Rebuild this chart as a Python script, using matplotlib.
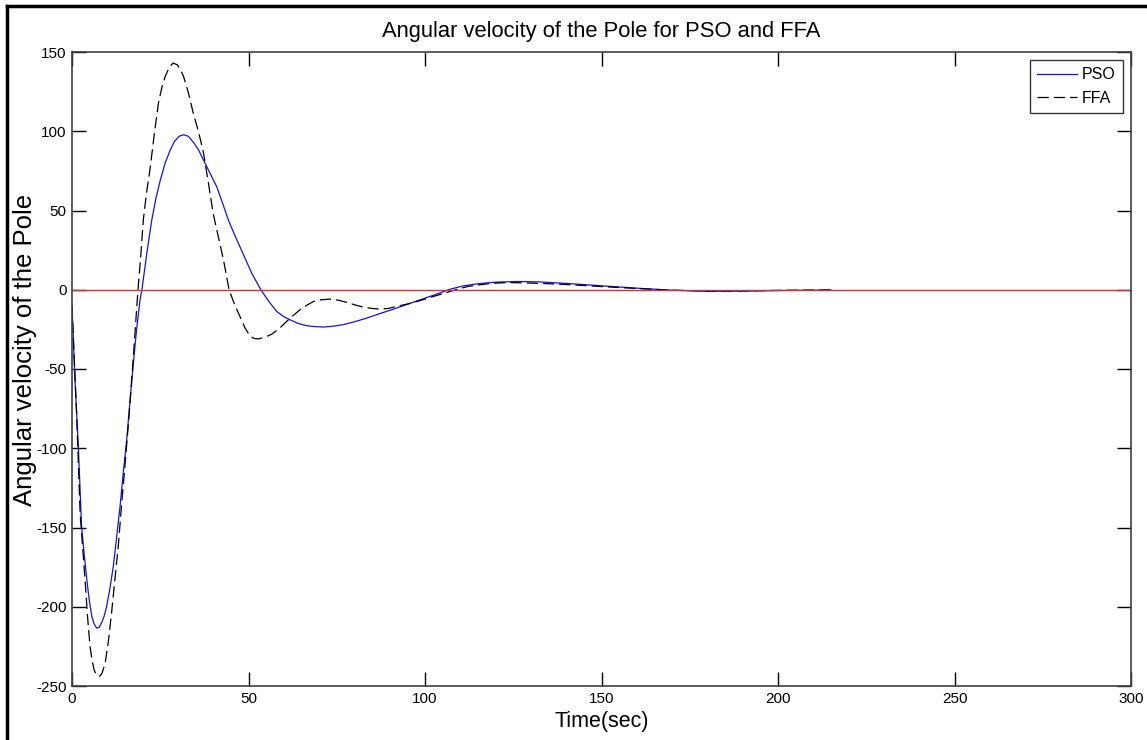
import matplotlib
matplotlib.use("Agg")
import matplotlib.pyplot as plt
from matplotlib.lines import Line2D

plt.rcParams['font.family'] = ['Liberation Sans', 'DejaVu Sans']
plt.rcParams['axes.unicode_minus'] = False

title = "Angular velocity of the Pole for PSO and FFA"
xlabel = "Time(sec)"
ylabel = "Angular velocity of the Pole"
series_names = ["PSO", "FFA"]

pso_t = [0, 0.85, 1.8, 2.7, 3.5, 4.2, 4.9, 5.6, 6.3, 7.0, 7.7, 8.4, 9.1, 9.8, 10.7, 11.7,
         12.6, 13.6, 14.5, 15.5, 16.4, 17.4, 18.3, 19.3, 19.8, 21.2, 22.6, 23.8, 25, 26.4,
         27.8, 29, 30.3, 31.6, 33, 34.4, 35.8, 37.2, 39, 41, 42.6, 44.3, 46, 47.6, 49.3,
         50.9, 53.5, 55.8, 58, 60, 61.8, 64, 66.5, 69, 71.3, 74, 76.9, 80, 83.5, 87, 91.1,
         95, 98.7, 103, 107.2, 111, 115, 120, 126, 132, 140, 150, 160, 170, 180, 190,
         200, 215]
pso_v = [-10, -57, -99, -149, -168, -183, -196, -206, -211, -213.5, -213, -210, -206, -200,
         -189, -174.6, -157, -137, -116, -94.6, -71, -46, -25, -6, 0, 23, 44, 58, 69, 80,
         88, 93.5, 96.8, 97.8, 96.8, 93, 88.5, 82, 74, 65, 55, 44, 35, 27, 18.5, 10.5, 0,
         -7.5, -13.7, -17, -19, -21.2, -22.7, -23.3, -23.5, -23, -22, -20.2, -17.9, -15.2,
         -12.2, -9.2, -6.3, -3, 0.4, 2.5, 3.8, 4.8, 5.2, 5.0, 4.0, 2.5, 1.0, -0.3, -1.0,
         -0.9, -0.5, -0.2]

ffa_t = [0, 1.3, 2.3, 3.7, 4.4, 5.1, 5.7, 6.3, 6.9, 7.5, 8.0, 8.5, 9.4, 10.3, 11.2, 12.1,
         13.1, 14.0, 15, 16, 16.9, 17.7, 18.5, 18.7, 19.5, 20.2, 21.1, 22.1, 23.3, 24.5,
         25.5, 26.4, 27.5, 28.6, 29.8, 30.7, 31.6, 33, 34.4, 35.8, 37.2, 38.6, 40, 41.5,
         42.9, 44.5, 46, 47.6, 49, 50.5, 51.7, 52.8, 54.6, 56.6, 58.7, 60.8, 62.7, 64.6,
         66.5, 68.4, 70.8, 73.1, 75.5, 77.9, 80.2, 82.6, 85, 87.3, 89.6, 92, 95, 97.7,
         100, 102.4, 105, 107.2, 110, 112, 115, 118, 121, 124, 127, 130, 135, 140, 150,
         160, 170, 180, 190, 200, 215]
ffa_v = [-10, -78, -141, -183, -206, -225, -234, -240, -243, -244, -243.5, -242, -235.5,
         -222, -204, -184, -162, -137, -111, -84, -57, -32, -6, 0, 22, 44, 61, 76, 98, 118,
         128, 134.6, 140, 143, 142, 139, 134.6, 124, 111, 100, 87, 68, 48, 33, 19, 0, -9,
         -17, -24, -29.5, -30.8, -31, -30, -28, -24.5, -20, -16.2, -12.6, -9.8, -7.4, -6.3,
         -5.9, -6.6, -8, -9.6, -11, -11.8, -12.2, -11.8, -10.5, -9, -7.4, -5.9, -4.2, -2.5,
         -1, 0.8, 2.0, 3.0, 3.8, 4.3, 4.5, 4.4, 4.2, 3.8, 3.3, 2.0, 0.8, -0.3, -0.8, -0.7,
         -0.4, -0.1]

xlim = (0, 300)
ylim = (-250, 150)
xticks = [0, 50, 100, 150, 200, 250, 300]
yticks = [-250, -200, -150, -100, -50, 0, 50, 100, 150]

fig = plt.figure(figsize=(11.47, 7.40), dpi=100)
ax = fig.add_axes([72/1147, 1-686/740, (1131-72)/1147, (686-52)/740])

ax.plot(pso_t, pso_v, color='#1010ff', lw=0.9, label=series_names[0])
ax.plot(ffa_t, ffa_v, color='black', lw=0.9, dashes=(9, 4), label=series_names[1])
ax.axhline(0, color='#d83030', lw=1.0)

ax.set_xlim(*xlim)
ax.set_ylim(*ylim)
ax.set_xticks(xticks)
ax.set_yticks(yticks)
ax.tick_params(direction='in', length=10, width=1, top=True, right=True,
               labelsize=11, colors='black', pad=4)
for s in ax.spines.values():
    s.set_color('#404040')
    s.set_linewidth(1.2)

ax.set_title(title, fontsize=15.8, pad=11)
ax.set_xlabel(xlabel, fontsize=15.5, labelpad=4)
ax.set_ylabel(ylabel, fontsize=18.5)
ax.yaxis.set_label_coords(-0.033, 0.53)

leg = ax.legend(loc='upper right', fontsize=11.5, frameon=True, fancybox=False,
                edgecolor='black', handlelength=2.5, borderpad=0.45, labelspacing=0.55,
                handletextpad=0.3, borderaxespad=0.5)
leg.get_frame().set_linewidth(1.0)

fig.add_artist(Line2D([7/1147, 7/1147], [0, 1-6/740], transform=fig.transFigure, color='black', lw=2.5))
fig.add_artist(Line2D([7/1147, 1], [1-6/740, 1-6/740], transform=fig.transFigure, color='black', lw=2.5))

fig.savefig("out.png", dpi=100)
